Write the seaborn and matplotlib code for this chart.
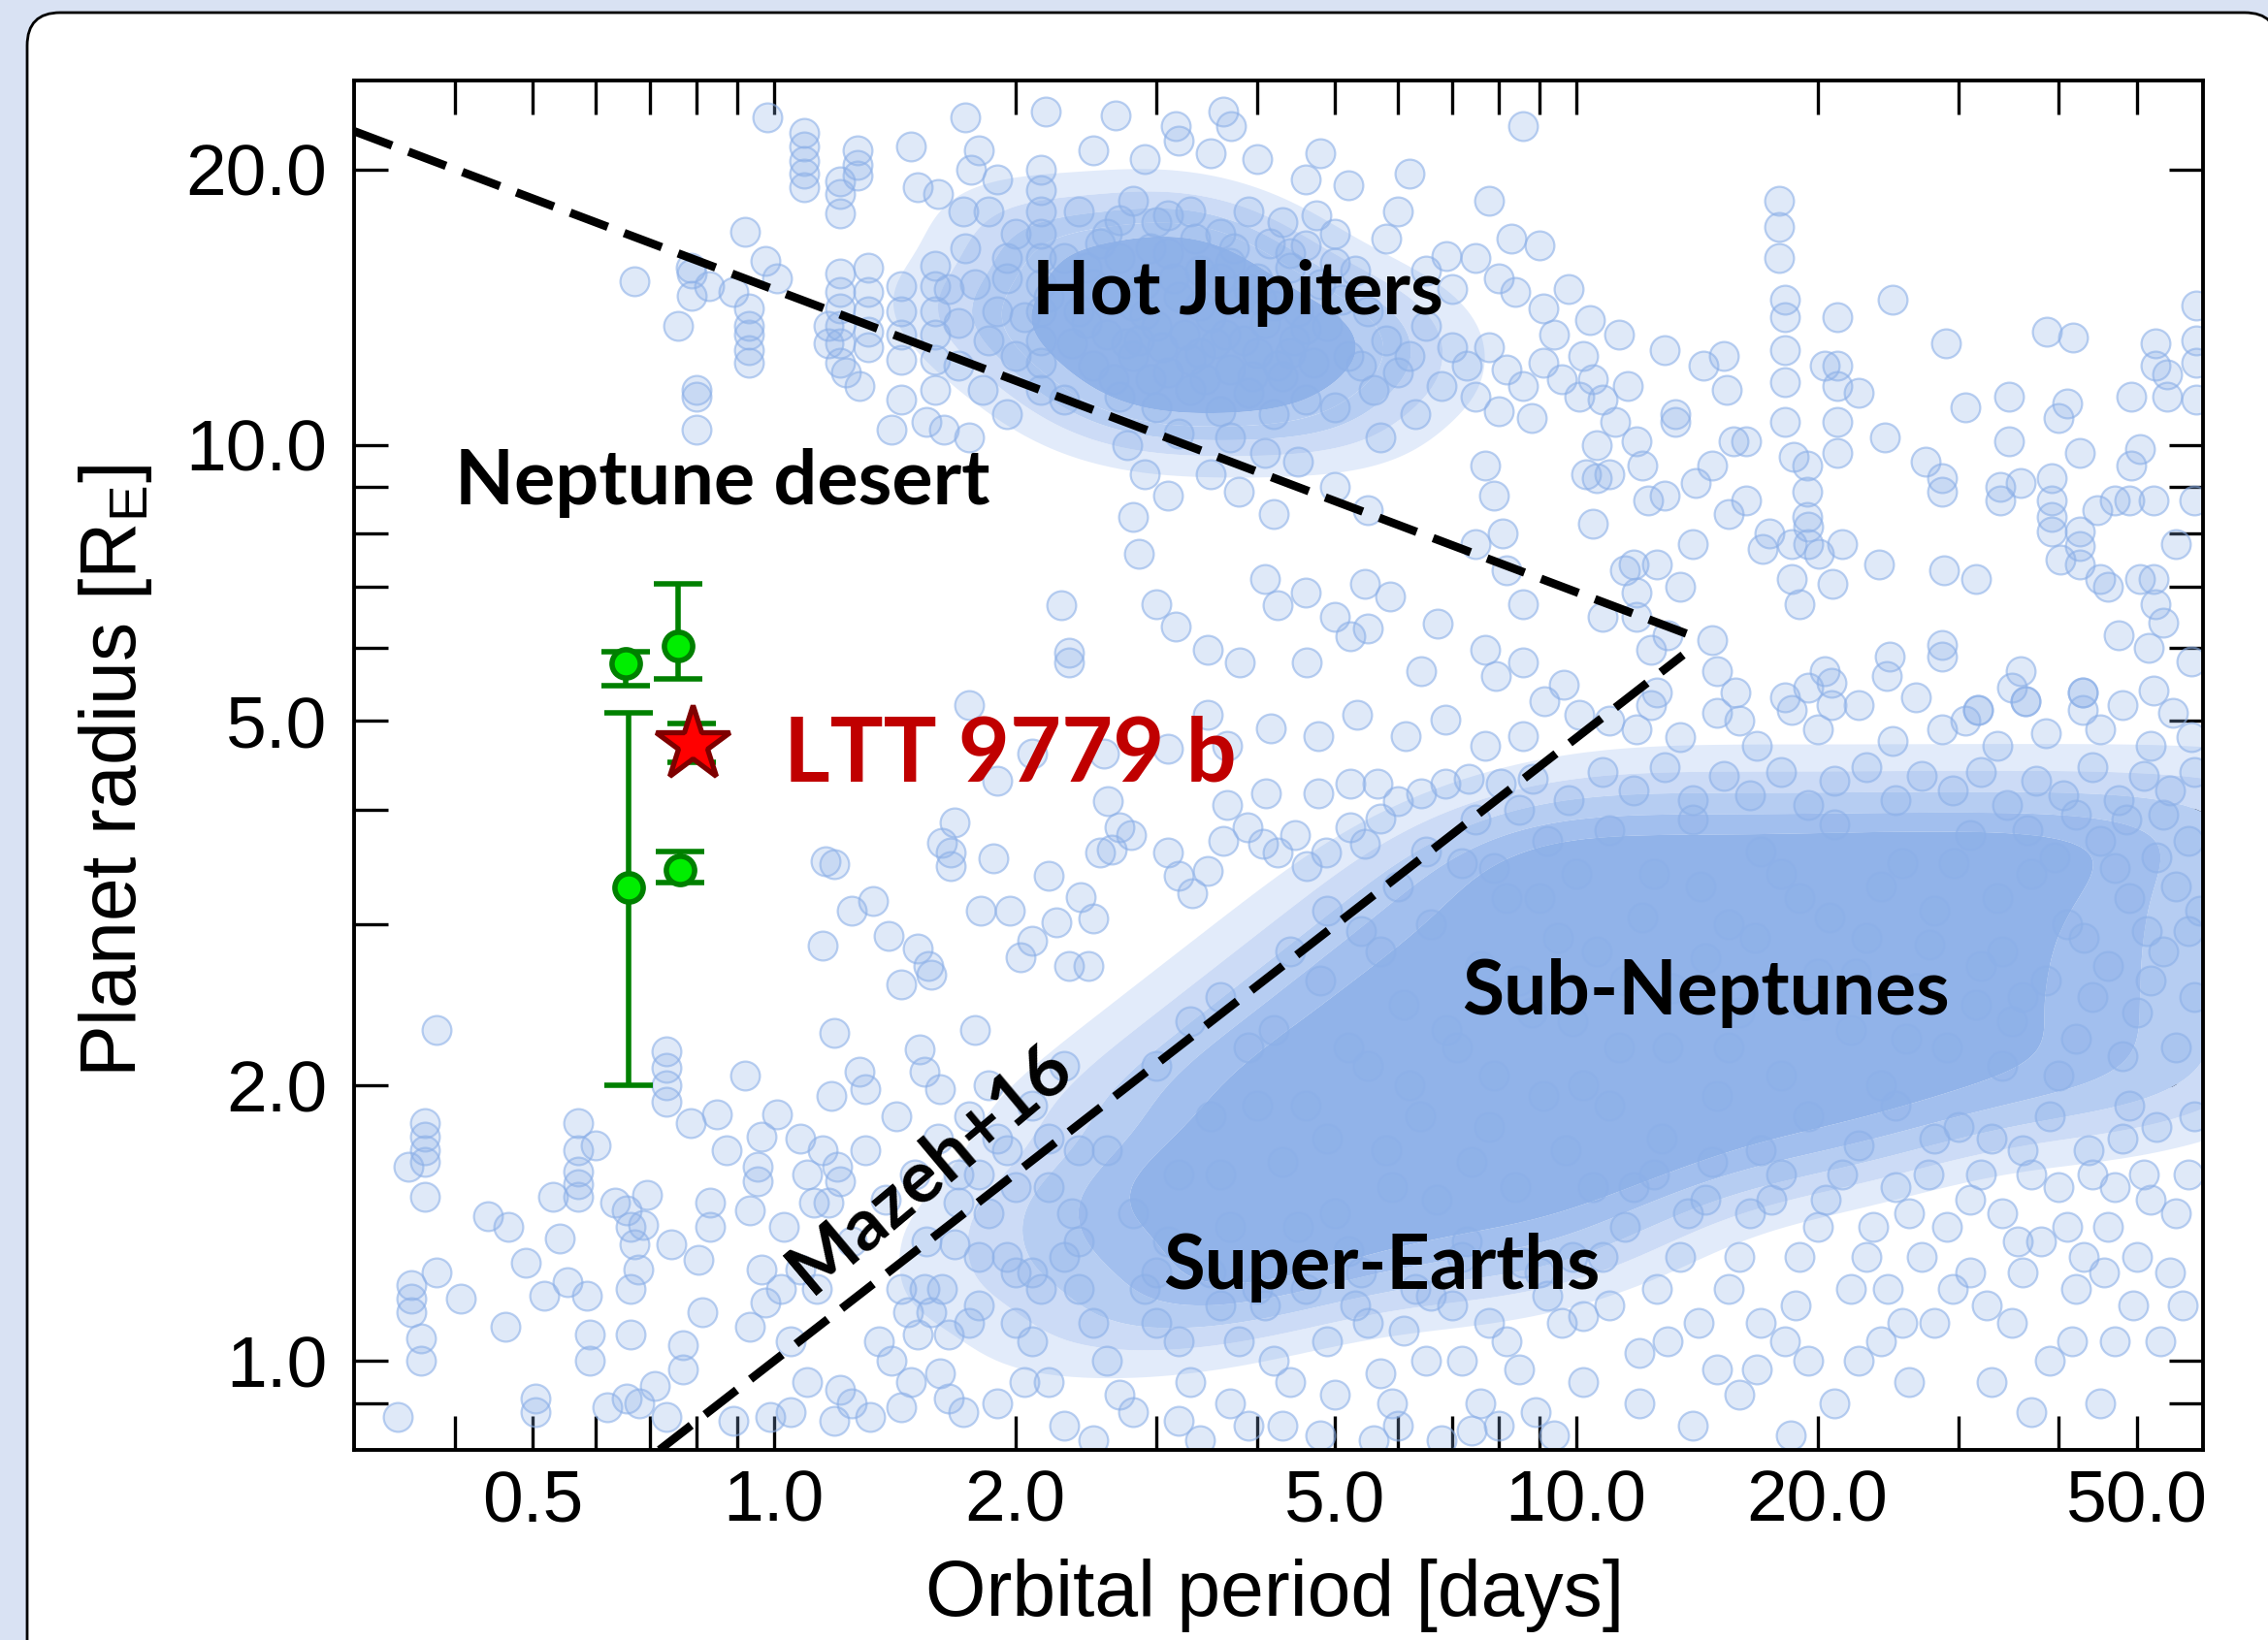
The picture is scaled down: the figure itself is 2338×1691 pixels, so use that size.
import matplotlib
matplotlib.use("Agg")
import numpy as np
import matplotlib.pyplot as plt
import seaborn as sns
from matplotlib.patches import FancyBboxPatch
from matplotlib.transforms import IdentityTransform
from matplotlib.ticker import NullLocator
from matplotlib.colors import ListedColormap

# ---------------- data: (period [d], radius [R_E]) ----------------
short_giants = [(0.98,22.8),(1.09,21.9),(1.09,21.2),(1.09,20.4),(1.09,19.8),(1.09,19.1),(1.27,21.0),(1.27,20.2),(1.27,19.7),
 (1.21,19.4),(1.21,18.8),(1.21,17.9),(1.48,21.2),(1.51,19.1),(1.60,18.8),(1.73,22.8),(0.92,17.1),(0.787,15.6),(0.79,15.4),
 (0.67,15.1),(0.975,15.9),(1.01,15.2),(0.83,14.9),(0.89,14.7),(0.79,14.55),(0.93,14.1),(0.93,13.5),(0.93,13.2),(0.93,12.7),
 (0.93,12.3),(0.76,13.5),(0.80,11.5),(0.80,11.3),(0.80,10.4),(1.40,10.4),(1.21,15.4),(1.21,14.7),(1.21,14.1),(1.21,13.5),
 (1.21,12.9),(1.21,12.3),(1.31,15.6),(1.31,14.7),(1.31,14.0),(1.31,13.3),(1.31,12.8),(1.44,14.9),(1.44,14.0),(1.44,13.2),
 (1.44,12.4),(1.59,15.7),(1.59,14.9),(1.59,14.0),(1.59,13.2),(1.59,12.4),(1.59,11.5),(1.73,16.4),(1.72,18.0),(1.63,10.4),
 (1.75,10.2),(1.17,13.5),(1.17,12.9),(1.23,12.0),(1.28,11.6),(1.44,11.2),(1.55,10.6)]

hot_jupiters = [(2.18,23.1),(2.67,22.9),(3.17,22.3),(3.71,22.3),(3.63,23.1),(3.2,21.5),(2.5,21.0),(2.9,20.5),(3.5,20.8),
 (4.0,20.5),(4.6,19.5),(5.2,19.2),(4.8,20.8),(1.8,21.0),(1.9,19.5),(1.85,18.0),(2.0,17.0),(1.95,16.0),(1.78,15.0),(1.9,14.0),
 (1.85,13.0),(2.0,12.5),(1.76,20.0),(1.82,11.5),(1.95,10.8),(2.15,20.0),(2.15,19.0),(2.15,18.0),(2.15,17.0),(2.15,16.0),
 (2.15,15.0),(2.15,14.0),(2.15,13.0),(2.15,12.3),(2.15,11.5),(2.4,18.0),(2.6,17.0),(2.8,18.5),(3.0,17.5),(3.3,18.0),(3.6,17.0),
 (3.9,18.0),(4.3,17.5),(4.6,16.5),(5.0,17.0),(2.3,16.0),(2.5,15.0),(2.7,16.0),(2.9,15.0),(3.1,16.2),(3.4,15.5),(3.7,15.8),
 (4.0,15.2),(4.4,15.6),(4.8,15.0),(5.3,15.5),(2.4,14.0),(2.6,13.2),(2.8,14.2),(3.0,13.5),(3.2,14.5),(3.5,13.8),(3.8,14.3),
 (4.1,13.6),(4.5,14.0),(4.9,13.5),(5.5,14.0),(2.5,12.2),(2.8,12.5),(3.1,12.0),(3.4,12.6),(3.7,12.1),(4.0,12.6),(4.3,11.9),
 (4.7,12.3),(5.2,12.5),(2.7,11.3),(3.0,11.0),(3.3,11.5),(3.6,10.9),(3.9,11.4),(4.2,10.8),(4.6,11.2),(5.0,11.0),(5.6,11.5),
 (6.0,12.0),(3.2,10.3),(3.7,10.2),(4.1,9.8),(2.55,16.6),(2.95,16.4),(3.35,16.8),(3.75,16.4),(4.15,16.6),(2.45,13.6),
 (2.85,13.0),(3.25,13.2),(3.65,13.2),(4.05,14.4),(4.45,13.0),(2.65,11.8),(3.05,12.8),(3.45,11.8),(3.85,13.0),(4.25,12.2),
 (2.2,14.5),(2.45,15.6),(2.6,14.6),(2.9,13.9),(3.15,15.2),(3.4,14.2),(3.6,15.2),(3.9,14.8),(4.2,14.2),(4.4,12.6),(3.3,12.4),
 (3.55,12.9),(2.95,11.8),(2.75,12.9),(3.95,11.9),(4.4,16.2),(3.1,17.8),(2.7,17.6),(4.6,13.4),(5.1,14.4),(5.4,12.2),(5.0,15.8),
 (4.75,17.8),(2.35,12.9),(2.3,11.2),(1.95,15.2),(2.05,13.8),(1.7,13.6),(1.7,12.2),(1.65,14.8)]

warm_giants = [(6.2,19.8),(7.8,18.5),(8.3,16.8),(8.6,22.3),(6.9,16.1),(5.8,16.8),(6.0,18.0),(5.8,13.0),(6.2,12.5),(6.5,13.5),
 (7.0,12.8),(7.3,12.2),(7.8,12.8),(8.2,12.1),(8.6,11.6),(9.1,12.3),(9.6,11.8),(10.1,11.3),(7.5,11.3),(8.0,10.9),(8.8,10.7),
 (6.8,11.6),(6.3,10.8),(5.7,10.2),(9.4,13.2),(10.2,12.5),(6.5,15.5),(7.0,14.8),(7.5,16.0),(8.0,15.2),(9.0,16.5),(9.8,14.8),
 (8.4,14.7),(9.1,14.1),(17.9,18.5),(17.9,17.3),(17.9,16.0),(18.2,14.4),(18.2,13.8),(18.2,12.7),(18.2,11.7),(18.2,10.6),
 (24.8,14.4),(21.2,13.8),(21.2,12.2),(21.2,11.6),(21.2,10.6),(21.2,9.8),(20.4,12.2),(22.5,11.4),(24.3,10.2),(28.9,12.9),
 (38.6,13.3),(41.6,13.1),(52.8,12.9),(52.8,12.2),(49.2,11.3),(54.6,11.95),(54.6,11.3),(30.6,11.0),(34.7,11.3),(34.7,10.1),
 (39.9,10.7),(41.0,11.1),(42.5,9.8),(50.5,9.9),(49.2,9.5),(59.3,14.2),(59.3,13.0),(59.3,12.3),(59.3,11.2),(59.0,8.7),
 (10.3,9.3),(10.5,11.8),(10.8,11.2),(11.2,10.6),(11.6,11.6),(11.9,10.1),(12.1,9.5),(10.6,10.0),(11.0,9.3),(12.9,12.7),
 (13.3,10.8),(13.3,10.6),(14.4,12.2),(15.3,12.5),(15.4,11.5),(11.3,13.2),(10.4,13.7),(10.6,9.2),(12.3,8.7),(12.9,8.8),
 (14.1,9.1),(14.8,9.5),(15.5,8.4),(16.3,8.7),(15.7,10.1),(16.3,10.1),(17.1,7.7),(17.4,8.0),(19.5,8.15),(19.5,7.8),(20.1,7.6),
 (21.5,7.8),(18.6,7.8),(18.7,9.7),(19.4,9.5),(19.4,8.9),(19.4,8.35),(18.6,7.15),(20.9,7.05),(19.0,6.7),(23.9,7.4),(11.8,7.4),
 (12.6,7.4),(11.9,6.9),(28.8,7.3),(31.5,7.15),(27.3,9.6),(28.6,9.2),(28.6,8.9),(33.8,9.0),(35.8,9.1),(33.8,8.7),(39.2,9.2),
 (39.2,8.7),(39.2,8.35),(39.2,8.05),(42.5,8.05),(42.5,7.75),(42.5,7.4),(40.2,7.5),(45.0,7.15),(46.0,7.0),(50.5,7.15),
 (52.5,7.15),(52.8,6.7),(54.0,6.4),(51.8,6.0),(52.5,5.4),(44.6,8.5),(47.0,8.7),(49.0,8.7),(52.5,8.7),(28.6,6.05),(28.6,5.87),
 (35.8,5.67),(35.0,5.43),(36.3,5.25),(42.8,5.37),(42.8,5.14),(30.6,5.0),(31.7,5.14),(20.4,5.67),(20.8,5.5),(20.8,5.2),
 (19.5,5.43),(18.6,5.14),(24.6,5.87),(24.4,5.6),(14.8,6.13),(15.0,5.67),(15.8,5.37),(16.0,5.0),(12.4,5.97),(12.6,5.37),
 (11.9,4.9),(11.5,7.3),(11.9,6.5),(10.5,8.2),(13.5,7.0),(10.8,6.5),(14.0,7.8),(13.0,6.2),(47.5,6.2),(56.0,7.8),(58.5,5.8)]

desert_planets = [(2.76,10.0),(2.9,9.3),(3.1,8.8),(3.5,9.3),(3.8,8.9),(4.2,8.4),(2.8,8.35),(2.85,7.6),(3.0,6.7),(4.5,9.6),
 (5.0,9.0),(5.5,8.5),(7.7,9.5),(7.9,8.8),(8.1,8.0),(8.2,7.3),(8.6,6.7),(7.5,7.8),(4.1,7.15),(4.6,6.9),(5.0,6.5),(5.5,6.3),
 (3.17,6.33),(3.47,5.98),(2.33,5.79),(2.28,6.68),(3.81,5.79),(4.25,6.68),(4.61,5.79),(5.23,6.19),(5.46,7.06),(5.86,6.83),
 (6.41,5.67),(6.72,6.39),(7.70,5.98),(7.95,5.60),(8.6,5.79),(9.14,5.25),(9.65,5.48),(4.16,4.91),(4.77,4.81),(5.34,5.08),
 (6.13,4.81),(6.87,5.02),(7.70,4.70),(8.6,4.81),(10.1,5.08),(3.47,5.08),(3.67,4.70),(3.10,4.66),(2.58,4.60),(1.88,3.54),
 (1.97,3.1),(1.81,3.1),(2.03,2.76),(2.10,2.88),(2.20,3.39),(2.25,3.01),(2.33,2.70),(2.41,3.21),(2.47,2.70),(2.50,3.04),
 (2.61,4.09),(2.70,3.83),(2.79,3.75),(2.55,3.59),(2.64,3.62),(3.10,3.59),(3.20,3.39),(3.32,3.24),(3.47,3.43),(3.63,3.70),
 (3.89,3.83),(4.07,3.67),(4.25,3.59),(4.46,3.75),(4.61,3.47),(4.88,3.59),(5.23,3.83),(5.46,3.67),(5.71,3.91),(5.99,4.09),
 (6.41,4.17),(6.87,4.27),(7.34,4.32),(8.05,4.27),(8.83,4.32),(3.67,4.05),(4.11,4.17),(4.77,4.17),(5.23,4.27),(5.65,4.27),
 (1.19,3.49),(1.62,3.68),(1.9,4.3),(2.1,4.6),(1.75,5.2),(2.33,5.93),(1.15,2.84),(1.25,3.10),(1.33,3.18),(1.39,2.91),
 (1.16,3.51),(1.44,2.58),(1.51,2.82),(1.56,2.70),(1.57,2.64),(1.68,3.87),(1.66,3.59),(1.66,3.47)]

short_small = [(0.38,2.3),(0.367,1.82),(0.367,1.76),(0.367,1.70),(0.367,1.65),(0.35,1.63),(0.367,1.51),(0.353,1.21),
 (0.353,1.17),(0.353,1.13),(0.363,1.06),(0.363,1.0),(0.38,1.25),(0.34,0.87),(0.407,1.17),(0.44,1.44),(0.466,1.40),(0.49,1.28),
 (0.463,1.09),(0.505,0.88),(0.505,0.91),(0.517,1.18),(0.53,1.51),(0.54,1.36),(0.553,1.22),(0.57,1.82),(0.57,1.70),(0.57,1.61),
 (0.57,1.56),(0.57,1.51),(0.585,1.18),(0.59,1.07),(0.59,1.0),(0.6,1.72),(0.633,1.49),(0.656,1.46),(0.662,1.40),(0.67,1.34),
 (0.678,1.26),(0.662,1.20),(0.694,1.52),(0.687,1.41),(0.662,1.07),(0.656,0.91),(0.62,0.89),(0.734,2.18),(0.734,2.09),
 (0.734,2.0),(0.734,1.92),(0.787,1.82),(0.85,1.86),(0.873,1.70),(0.832,1.49),(0.832,1.40),(0.805,1.29),(0.814,1.13),
 (0.77,1.04),(0.77,0.98),(0.745,1.34),(0.68,0.90),(0.734,0.87),(0.71,0.94),(0.92,2.05),(0.964,1.76),(0.954,1.63),(0.954,1.57),
 (0.933,1.46),(0.964,1.26),(0.933,1.09),(0.975,1.16),(1.01,1.86),(1.03,1.40),(1.08,1.26),(1.12,1.49),(1.15,1.70),(1.19,2.28),
 (1.28,2.07),(1.30,1.98),(1.54,2.07),(1.52,2.19),(1.61,1.98),(1.2,1.63),(1.21,1.57),(1.17,1.49),(1.44,1.2),(1.47,1.13),
 (1.51,1.07),(1.54,1.2),(1.57,1.13),(1.65,1.07),(1.68,1.34),(1.70,1.49),(1.61,0.97),(1.65,0.91),(1.21,0.93),(1.25,0.90),
 (1.05,0.88),(0.99,0.87),(0.89,0.86),(1.19,0.86),(1.44,0.89),(1.78,2.3),(1.85,2.0),(1.9,1.75),(2.0,1.55),(1.8,1.6),(2.1,1.9),
 (2.3,2.1),(1.95,1.3),(2.15,1.2),(2.35,1.45),(1.75,1.1),(2.05,0.95),(2.4,1.7),
 (1.05,1.05),(1.1,1.6),(1.13,1.2),(1.18,1.95),(1.25,1.35),(1.3,1.7),(1.35,1.05),(1.38,1.5),(1.42,1.85),(1.48,0.95),(1.5,1.6),
 (1.55,1.35),(1.6,1.75),(1.62,1.2),(1.7,1.6),(1.72,0.88),(1.75,1.85),(1.8,1.15),(1.85,1.45),(1.9,0.9),(1.95,1.7),(2.0,1.25),
 (2.1,1.05),(2.2,1.75),(2.3,1.3),(1.1,0.95),(1.32,0.87),(1.4,1.0),(1.02,1.2),(1.08,1.75)]

superearths = [(2.2,1.55),(2.4,1.35),(2.6,1.7),(2.8,1.45),(3.0,1.25),(3.2,1.6),(3.5,1.85),(3.7,1.4),(4.0,1.2),(4.3,1.65),
 (4.6,1.9),(5.0,1.45),(5.4,1.25),(5.8,1.7),(6.2,2.0),(6.7,1.5),(7.2,1.3),(7.8,1.8),(8.4,1.55),(9.0,1.25),(9.7,1.7),(10.2,2.0),
 (1.8,1.3),(2.0,1.1),(2.2,0.95),(2.4,1.2),(2.6,1.0),(2.8,0.88),(3.0,1.1),(3.3,0.95),(3.6,1.15),(3.9,0.85),(4.2,1.0),(4.6,1.2),
 (5.0,0.92),(5.5,1.1),(6.0,0.85),(6.5,1.0),(7.0,1.15),(7.6,0.9),(8.2,1.05),(8.9,0.88),(9.6,1.1),(10.2,0.95),(2.3,0.85),
 (3.4,0.82),(4.8,0.83),(6.8,0.82),(5.2,1.32),(6.3,1.2),(7.3,1.35),(8.6,1.28),(10.5,1.55),(11.5,1.4),(12.5,1.6),(13.5,1.3),
 (14.5,1.5),(15.5,1.2),(16.5,1.45),(18.0,1.6),(19.0,1.3),(20.5,1.5),(22.0,1.2),(23.5,1.4),(25.0,1.55),(27.0,1.3),(11.0,1.15),
 (13.0,1.05),(15.0,0.98),(17.0,1.1),(19.5,1.0),(21.0,0.9),(24.0,1.05),(26.0,0.95),(28.0,1.1),(12.0,0.9),(14.0,0.85),(16.0,0.92),
 (18.5,0.83),(30.0,1.8),(32.0,1.6),(34.0,1.45),(36.0,1.7),(38.0,1.35),(40.0,1.55),(42.0,1.2),(44.0,1.6),(46.0,1.4),(48.0,1.75),
 (50.0,1.3),(52.0,1.5),(55.0,1.25),(58.0,1.6),(31.0,1.25),(35.0,1.1),(39.0,1.0),(43.0,1.3),(47.0,1.05),(33.0,0.95),(37.0,0.88),
 (45.0,0.9),(29.0,1.4),
 (2.1,1.25),(2.5,1.1),(2.9,1.2),(3.2,1.05),(3.5,1.25),(3.8,1.05),(4.1,1.15),(4.4,0.95),(4.9,1.05),(5.3,1.15),(5.7,0.97),
 (6.1,1.08),(6.6,1.18),(7.2,1.0),(7.8,1.1),(8.5,0.98),(9.2,1.18),(9.9,1.3),(2.7,0.92),(3.7,0.9),(5.9,0.9),(8.0,0.85),(4.3,0.85),
 (2.5,0.82),(3.2,0.86),(5.6,0.82),(7.4,0.84),(9.4,0.83),(10.8,1.3),(11.8,1.55),(12.6,1.2),(13.8,1.45),(14.8,1.65),(16.0,1.3),
 (17.5,1.5),(18.8,1.15),(20.0,1.4),(21.5,1.6),(23.0,1.3),(24.5,1.2),(26.0,1.45),(27.5,1.6),(29.5,1.2),(10.2,1.12),(12.0,1.02),
 (14.2,1.1),(16.8,0.98),(18.2,1.05),(22.5,1.0),(25.5,1.1),(31.0,1.5),(33.0,1.75),(35.5,1.35),(37.0,1.6),(39.0,1.85),(41.0,1.4),
 (43.5,1.7),(45.5,1.25),(47.0,1.55),(49.0,1.9),(51.0,1.6),(53.0,1.8),(56.0,1.45),(59.0,1.85),(57.0,1.15),(53.5,1.05),
 (49.5,1.15),(41.5,1.05),(36.0,1.25),(32.5,1.15)]

subneptunes = [(4.2,2.3),(4.8,2.6),(5.2,2.2),(5.7,2.8),(6.1,2.45),(6.6,3.0),(7.1,2.2),(7.6,2.7),(8.2,3.2),(8.8,2.4),(9.5,2.9),
 (10.0,3.4),(9.2,3.7),(7.9,3.45),(11.0,3.8),(12.5,3.4),(14.0,3.9),(15.5,3.0),(17.0,3.6),(19.0,3.2),(21.0,3.85),(23.0,2.9),
 (25.5,3.5),(28.0,3.1),(31.0,3.75),(34.0,2.8),(37.0,3.4),(41.0,3.0),(45.0,3.7),(49.0,3.2),(53.0,3.55),(58.0,2.95),(11.5,2.6),
 (13.0,2.2),(14.5,2.75),(16.0,2.4),(18.0,2.05),(20.0,2.65),(22.0,2.3),(24.0,2.0),(26.5,2.55),(29.0,2.2),(32.0,2.7),(35.0,2.35),
 (38.5,2.6),(42.0,2.25),(46.0,2.7),(50.0,2.4),(54.0,2.8),(59.0,2.5),(11.0,1.9),(12.8,1.75),(15.0,1.95),(17.0,1.7),(19.5,1.85),
 (22.5,1.72),(25.0,1.9),(28.0,1.75),(10.8,4.4),(11.8,4.2),(12.9,4.45),(14.0,4.1),(15.3,4.35),(16.5,4.15),(18.0,4.4),(19.5,4.05),
 (21.0,4.3),(23.0,4.45),(25.0,4.1),(27.0,4.35),(29.5,4.2),(32.0,4.4),(34.5,4.05),(37.5,4.3),(40.5,4.15),(44.0,4.45),(47.5,4.1),
 (51.0,4.35),(55.0,4.2),(59.0,4.4),(11.0,5.0),(12.4,5.2),(13.5,4.8),(15.0,5.1),(16.8,4.7),(18.2,5.3),(20.0,4.9),(22.5,5.2),
 (24.8,4.75),(26.5,5.3),(28.6,4.9),(31.7,5.14),(33.5,4.7),(36.3,5.25),(38.5,4.85),(42.8,5.37),(45.0,4.9),(48.0,5.2),(52.0,4.7),
 (55.5,5.1),(58.5,4.8),
 (3.0,2.1),(3.3,2.35),(3.6,2.5),(3.9,2.2),(4.4,2.8),(4.9,3.1),(5.4,2.95),(6.0,3.3),(6.5,3.6),(7.2,3.5),(7.5,3.9),(8.5,4.0),
 (9.0,3.2),(9.8,4.1),(3.1,1.35),(3.6,1.6),(4.0,1.9),(4.5,1.4),(4.9,1.75),(5.5,2.1),(5.9,1.55),(6.4,1.85),(6.9,2.3),(7.4,1.65),
 (7.9,2.05),(8.5,2.6),(9.1,1.95),(9.9,2.35),(10.6,2.8),(11.3,2.2),(12.1,3.05),(13.2,2.55),(14.3,3.3),(15.5,2.2),(16.7,2.9),
 (18.0,3.4),(19.3,2.45),(20.7,3.05),(22.3,2.65),(24.0,3.3),(25.8,2.25),(27.6,2.85),(29.6,3.5),(31.5,2.45),(33.5,3.2),(36.0,2.5),
 (39.5,3.55),(43.0,2.9),(47.0,3.45),(51.5,2.95),(56.0,3.3),(60.0,3.1),(40.0,2.05),(44.0,2.5),(48.0,2.15),(52.0,2.6),(56.0,2.2),
 (34.0,2.1),(36.5,3.8),(42.0,3.95),(48.5,3.9),(54.0,3.95),(58.0,3.7)]

# crowded parts of the diagram (read as the saturated zones of the picture)
core_small = [(2.2,1.3),(2.2,1.5),(2.75,1.15),(2.75,1.3),(2.75,1.5),(2.75,1.7),(2.75,1.95),(3.4,1.15),(3.4,1.3),(3.4,1.5),
 (3.4,1.7),(3.4,1.95),(3.4,2.25),(4.2,1.15),(4.2,1.3),(4.2,1.5),(4.2,1.7),(4.2,1.95),(4.2,2.25),(4.2,2.6),(5.2,1.3),(5.2,1.5),
 (5.2,1.7),(5.2,1.95),(5.2,2.25),(5.2,2.6),(5.2,3.0),(6.4,1.3),(6.4,1.5),(6.4,1.7),(6.4,1.95),(6.4,2.25),(6.4,2.6),(6.4,3.0),
 (6.4,3.45),(8.0,1.3),(8.0,1.5),(8.0,1.7),(8.0,1.95),(8.0,2.25),(8.0,2.6),(8.0,3.0),(8.0,3.45),(8.0,3.9),(10.0,1.3),(10.0,1.5),
 (10.0,1.7),(10.0,1.95),(10.0,2.25),(10.0,2.6),(10.0,3.0),(10.0,3.45),(10.0,3.9),(12.5,1.5),(12.5,1.7),(12.5,1.95),(12.5,2.25),
 (12.5,2.6),(12.5,3.0),(12.5,3.45),(12.5,3.9),(15.5,1.7),(15.5,1.95),(15.5,2.25),(15.5,2.6),(15.5,3.0),(15.5,3.45),(15.5,3.9),
 (19.5,1.7),(19.5,1.95),(19.5,2.25),(19.5,2.6),(19.5,3.0),(19.5,3.45),(19.5,3.9),(24.0,1.7),(24.0,1.95),(24.0,2.25),(24.0,2.6),
 (24.0,3.0),(24.0,3.45),(24.0,3.9),(30.0,1.95),(30.0,2.25),(30.0,2.6),(30.0,3.0),(30.0,3.45),(30.0,3.9),(37.0,1.95),(37.0,2.25),
 (37.0,2.6),(37.0,3.0),(37.0,3.45),(37.0,3.9),(46.0,1.95),(46.0,2.25),(46.0,2.6),(46.0,3.0),(46.0,3.45),(46.0,3.9),(60.0,1.95),
 (60.0,2.25),(60.0,2.6),(60.0,3.0),(60.0,3.45),(60.0,3.9)]
core_giant = [(1.9,13.8),(2.2,12.3),(2.2,13.8),(2.2,15.5),(2.2,17.0),(2.6,11.0),(2.6,12.3),(2.6,13.8),(2.6,15.5),
 (3.0,11.0),(3.0,12.3),(3.0,13.8),(3.0,15.5),(3.0,17.0),(3.5,11.0),(3.5,12.3),(3.5,13.8),(3.5,15.5),(3.5,17.0),
 (4.1,11.0),(4.1,12.3),(4.1,13.8),(4.1,15.5),(4.8,11.0),(4.8,12.3),(4.8,13.8),(5.5,12.3),(5.5,13.8)]

# Mazeh+16 desert boundaries
upper_P = [0.30, 13.97]
upper_R = [22.0, 6.19]
lower_P = [0.72, 13.6]
lower_R = [0.80, 5.90]

# ultra-hot Neptunes with error bars
green_P = [0.653, 0.759, 0.659, 0.763, 0.789]
green_R = [5.77, 6.03, 3.29, 3.44, 4.72]
green_lo = [5.46, 5.56, 2.00, 3.33, 4.50]
green_hi = [5.95, 7.06, 5.10, 3.60, 4.97]

star_P = [0.792]
star_R = [4.72]

xtick_vals = [0.4, 0.5, 0.6, 0.7, 0.8, 0.9, 1, 2, 3, 4, 5, 6, 7, 8, 9, 10, 20, 30, 40, 50]
xtick_text = ['', '0.5', '', '', '', '', '1.0', '2.0', '', '', '5.0', '', '', '', '', '10.0', '20.0', '', '', '50.0']
ytick_vals = [0.9, 1, 2, 3, 4, 5, 6, 7, 8, 9, 10, 20]
ytick_text = ['', '1.0', '2.0', '', '', '5.0', '', '', '', '', '10.0', '20.0']

# ---------------- styling ----------------
sns.set_theme(style="ticks")
plt.rcParams['font.family'] = ['Liberation Sans', 'DejaVu Sans']
plt.rcParams['mathtext.fontset'] = 'custom'
plt.rcParams['mathtext.rm'] = 'Liberation Sans'
plt.rcParams['mathtext.it'] = 'Liberation Sans:italic'
plt.rcParams['mathtext.bf'] = 'Liberation Sans:bold'

W, H = 2338, 1691
fig = plt.figure(figsize=(W / 100, H / 100), dpi=100, facecolor='#D9E2F3')
box = FancyBboxPatch((28, -60), 2320, H - 13 + 60, boxstyle="round,pad=0,rounding_size=34",
                     transform=IdentityTransform(), facecolor='white', edgecolor='black',
                     linewidth=2.0, zorder=-5)
fig.add_artist(box)

ax = fig.add_axes([365 / W, 1 - 1495 / H, (2271 - 365) / W, (1495 - 83) / H])
ax.set_facecolor('white')

def split(pts):
    return [p for p, r in pts], [r for p, r in pts]

base = (0.55, 0.69, 0.91)
core_cmap = ListedColormap(['#E2EBFA', '#CCDBF6', '#B6CDF2', '#A2BFEE', '#91B3E9'])
cs_P, cs_R = split(core_small)
cg_P, cg_R = split(core_giant)
sns.kdeplot(x=cs_P, y=cs_R, log_scale=True, fill=True, levels=[0.02, 0.07, 0.15, 0.27, 0.42, 1], cmap=core_cmap,
            bw_adjust=0.65, ax=ax, zorder=1, antialiased=True)
sns.kdeplot(x=cg_P, y=cg_R, log_scale=True, fill=True, levels=[0.03, 0.1, 0.2, 0.32, 0.46, 1], cmap=core_cmap,
            bw_adjust=1.1, ax=ax, zorder=1, antialiased=True)

all_pts = short_giants + hot_jupiters + warm_giants + desert_planets + short_small + superearths + subneptunes
P_all, R_all = split(all_pts)
sns.scatterplot(x=P_all, y=R_all, s=460, facecolor=base + (0.27,), edgecolor=base + (0.6,),
                linewidth=1.6, ax=ax, zorder=2, legend=False)

ax.plot(upper_P, upper_R, color='black', lw=6.2, dashes=(4.8, 2.1), zorder=3)
ax.plot(lower_P, lower_R, color='black', lw=6.2, dashes=(4.8, 2.1), zorder=3)

gP = np.array(green_P); gR = np.array(green_R)
yerr = [gR - np.array(green_lo), np.array(green_hi) - gR]
ax.errorbar(gP, gR, yerr=yerr, fmt='o', color='#008000', mfc='#00EE00', mec='#008000', ms=21, mew=4,
            elinewidth=4, capsize=18, capthick=4, zorder=5)
ax.plot(star_P, star_R, linestyle='none', marker='*', ms=58, mfc='#FF0000', mec='#7F0000', mew=3.8, zorder=6)

lab = dict(family=['Lato', 'DejaVu Sans'], fontweight='bold', color='black', zorder=7, va='baseline', ha='left')
ax.text(2.10, 13.88, 'Hot Jupiters', fontsize=55.5, **lab)
ax.text(0.400, 8.61, 'Neptune desert', fontsize=57, **lab)
ax.text(7.22, 2.39, 'Sub-Neptunes', fontsize=56.5, **lab)
ax.text(3.06, 1.20, 'Super-Earths', fontsize=56, **lab)
ax.text(1.562, 1.624, 'Mazeh+16', fontsize=54, family=['Lato', 'DejaVu Sans'], fontweight='bold',
        color='black', rotation=40, rotation_mode='anchor', ha='center', va='center', zorder=7)
ax.text(1.028, 4.30, 'LTT 9779 b', fontsize=66, family=['Lato', 'DejaVu Sans'], fontweight='bold',
        color='#C00000', va='baseline', ha='left', zorder=7)

ax.set_xscale('log'); ax.set_yscale('log')
ax.set_xlim(0.2996, 60.5)
ax.set_ylim(0.80, 25.0)
ax.set_xticks(xtick_vals)
ax.set_xticklabels(xtick_text)
ax.set_yticks(ytick_vals)
ax.set_yticklabels(ytick_text)
ax.xaxis.set_minor_locator(NullLocator())
ax.yaxis.set_minor_locator(NullLocator())
ax.tick_params(axis='both', which='major', direction='in', length=25, width=2.4, color='black',
               top=True, right=True, bottom=True, left=True, labelsize=54, labelcolor='black')
ax.tick_params(axis='x', pad=14)
ax.tick_params(axis='y', pad=20)
for s in ax.spines.values():
    s.set_linewidth(2.8)
    s.set_color('black')
    s.set_zorder(8)

ax.set_xlabel('Orbital period [days]', fontsize=58, color='black')
ax.set_ylabel('Planet radius [R$_\\mathregular{E}$]', fontsize=58, color='black')
ax.xaxis.set_label_coords(0.498, -0.079)
ax.yaxis.set_label_coords(-0.108, 0.496)

fig.savefig('out.png', dpi=100, facecolor=fig.get_facecolor())
